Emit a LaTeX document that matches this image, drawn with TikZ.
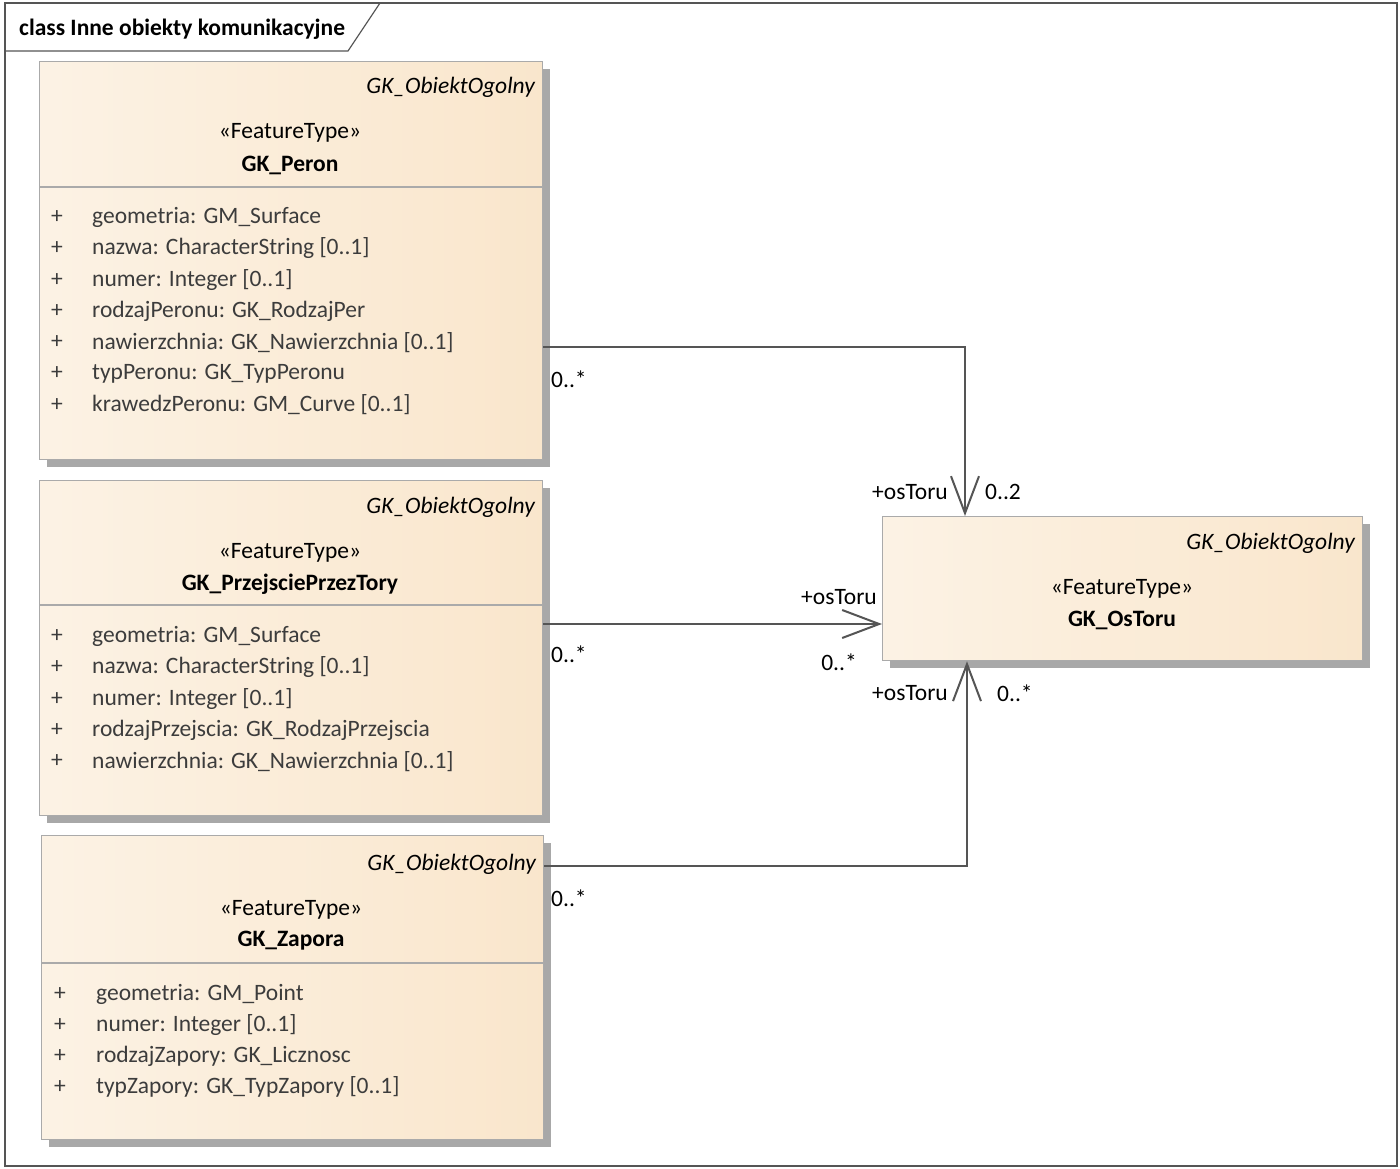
\documentclass[tikz,border=0pt]{standalone}
\usepackage{fontspec}
\setmainfont{Carlito}
\usetikzlibrary{arrows.meta,shadows}

\definecolor{frameline}{RGB}{85,85,85}
\definecolor{boxedge}{RGB}{170,170,170}
\definecolor{shadowgray}{RGB}{168,168,168}
\definecolor{attrtext}{RGB}{60,60,60}
\definecolor{peachL}{RGB}{246,220,184}
\definecolor{peachM}{RGB}{252,243,230}
\definecolor{peachR}{RGB}{248,224,192}

\pgfdeclarehorizontalshading{peach}{100bp}{color(0bp)=(peachL); color(22bp)=(peachM); color(100bp)=(peachR)}

\tikzset{
  x=1pt, y=1pt,
  every node/.style={font=\fontsize{23.5}{28}\selectfont, inner sep=0pt},
  classbox/.style={draw=boxedge, line width=1.3pt, shading=peach, anchor=north west,
    general shadow={fill=shadowgray, draw=none, shadow xshift=7pt, shadow yshift=-7pt}},
  parentname/.style={anchor=east, yshift=-2pt, font=\fontsize{23.5}{28}\selectfont\itshape},
  stereo/.style={anchor=center, yshift=-2pt},
  cname/.style={anchor=center, yshift=-2pt, font=\fontsize{23.5}{28}\selectfont\bfseries},
  attr/.style={anchor=west, yshift=-2pt, text=attrtext},
  vis/.style={anchor=center, yshift=-2pt, text=attrtext},
  sepline/.style={draw=boxedge, line width=1.3pt},
  assoc/.style={draw=frameline, line width=2pt, -{Straight Barb[length=37pt, width=28pt, line width=2pt]}},
  role/.style={text=black}
}

\begin{document}
\begin{tikzpicture}
  % canvas
  \useasboundingbox (0,0) rectangle (1400,-1169);
  \fill[white] (0,0) rectangle (1400,-1169);

  % diagram frame with its name tab
  \draw[frameline, line width=1.2pt] (5,-3) rectangle (1397,-1166);
  \draw[frameline, line width=1.2pt] (5,-51) -- (348,-51) -- (380,-3);
  \node[anchor=west, font=\fontsize{23.5}{28}\selectfont\bfseries] (frametitle) at (19,-29) {class Inne obiekty komunikacyjne};

  % ---- GK_Peron ----
  \node[classbox, minimum width=503pt, minimum height=398pt] (peron) at (39,-61) {};
  \node[parentname] (peronparent) at (535,-85) {GK\_ObiektOgolny};
  \node[stereo] (peronstereo) at (290,-131) {«FeatureType»};
  \node[cname] (peronname) at (290,-163) {GK\_Peron};
  \draw[sepline] (39,-187) -- (542,-187);
  \foreach \t [count=\i from 0] in {
      geometria: GM\_Surface,
      nazwa: CharacterString [0..1],
      numer: Integer [0..1],
      rodzajPeronu: GK\_RodzajPer,
      nawierzchnia: GK\_Nawierzchnia [0..1],
      typPeronu: GK\_TypPeronu,
      krawedzPeronu: GM\_Curve [0..1]} {
    \node[vis] (peronvis\i) at (57,-215-31.3*\i) {+};
    \node[attr] (peronattr\i) at (92,-215-31.3*\i) {\t};
  }

  % ---- GK_PrzejsciePrzezTory ----
  \node[classbox, minimum width=503pt, minimum height=335pt] (przejscie) at (39,-480) {};
  \node[parentname] (przparent) at (535,-505) {GK\_ObiektOgolny};
  \node[stereo] (przstereo) at (290,-551) {«FeatureType»};
  \node[cname] (przname) at (290,-582) {GK\_PrzejsciePrzezTory};
  \draw[sepline] (39,-605) -- (542,-605);
  \foreach \t [count=\i from 0] in {
      geometria: GM\_Surface,
      nazwa: CharacterString [0..1],
      numer: Integer [0..1],
      rodzajPrzejscia: GK\_RodzajPrzejscia,
      nawierzchnia: GK\_Nawierzchnia [0..1]} {
    \node[vis] (przvis\i) at (57,-634-31.3*\i) {+};
    \node[attr] (przattr\i) at (92,-634-31.3*\i) {\t};
  }

  % ---- GK_Zapora ----
  \node[classbox, minimum width=502pt, minimum height=304pt] (zapora) at (41,-835) {};
  \node[parentname] (zapparent) at (536,-862) {GK\_ObiektOgolny};
  \node[stereo] (zapstereo) at (291,-908) {«FeatureType»};
  \node[cname] (zapname) at (291,-939) {GK\_Zapora};
  \draw[sepline] (41,-963) -- (543,-963);
  \foreach \t [count=\i from 0] in {
      geometria: GM\_Point,
      numer: Integer [0..1],
      rodzajZapory: GK\_Licznosc,
      typZapory: GK\_TypZapory [0..1]} {
    \node[vis] (zapvis\i) at (60,-992-31*\i) {+};
    \node[attr] (zapattr\i) at (96,-992-31*\i) {\t};
  }

  % ---- GK_OsToru ----
  \node[classbox, minimum width=480pt, minimum height=144pt] (ostoru) at (882,-516) {};
  \node[parentname] (osparent) at (1355,-541) {GK\_ObiektOgolny};
  \node[stereo] (osstereo) at (1122,-587) {«FeatureType»};
  \node[cname] (osname) at (1122,-618) {GK\_OsToru};

  % ---- associations ----
  \coordinate (j1) at (965,-347);
  \coordinate (j2) at (700,-624);
  \coordinate (j3) at (967,-866);
  \draw[assoc] (j1 -| peron.east) -- (j1) -- (j1 |- ostoru.north);
  \draw[assoc] (j2 -| przejscie.east) -- (j2 -| ostoru.west);
  \draw[assoc] (j3 -| zapora.east) -- (j3) -- (j3 |- ostoru.south);

  % association end labels
  \node[role, anchor=west] (m1src) at (551,-379) {0..*};
  \node[role, anchor=east] (r1) at (948,-492) {+osToru};
  \node[role, anchor=west] (m1dst) at (985,-492) {0..2};

  \node[role, anchor=west] (m2src) at (551,-654) {0..*};
  \node[role, anchor=east] (r2) at (877,-597) {+osToru};
  \node[role, anchor=east] (m2dst) at (857,-662) {0..*};

  \node[role, anchor=west] (m3src) at (551,-898) {0..*};
  \node[role, anchor=east] (r3) at (948,-693) {+osToru};
  \node[role, anchor=west] (m3dst) at (997,-693) {0..*};
\end{tikzpicture}
\end{document}
